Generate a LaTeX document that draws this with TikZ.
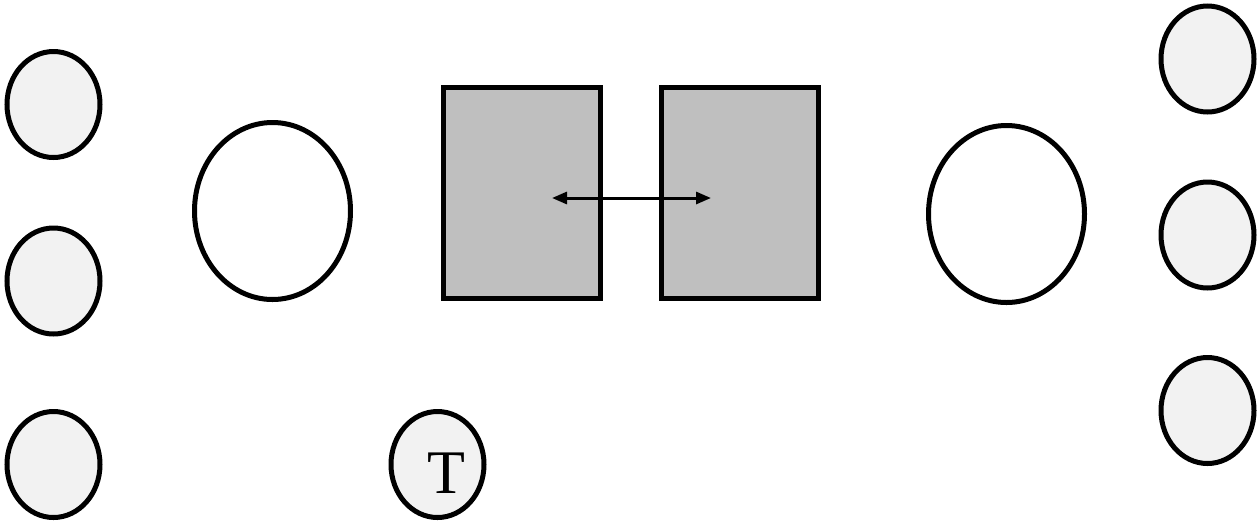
\documentclass[tikz,border=0pt]{standalone}
\usepackage{fontspec}
\setmainfont{Liberation Serif}
\usetikzlibrary{shapes.geometric,arrows.meta}
\definecolor{lightfill}{HTML}{F2F2F2}
\definecolor{boxfill}{HTML}{BFBFBF}
\tikzset{
  smallball/.style={ellipse, draw, line width=5pt, fill=lightfill, inner sep=0pt,
    minimum width=93pt, minimum height=106pt},
  bigring/.style={ellipse, draw, line width=5pt, fill=white, inner sep=0pt,
    minimum width=156pt, minimum height=177pt},
  greybox/.style={rectangle, draw, line width=5pt, fill=boxfill, inner sep=0pt,
    minimum width=157pt, minimum height=211pt},
  biglabel/.style={anchor=base, inner sep=0pt, font=\fontsize{62}{62}\selectfont},
  link/.style={line width=3pt, {Triangle[length=15pt,width=12pt]}-{Triangle[length=15pt,width=12pt]}}
}
\begin{document}
\begin{tikzpicture}[x=1pt, y=-1pt]
\useasboundingbox (0,0) rectangle (1258,523);
% left column
\node[smallball] (l1) at (53.5,104.5) {};
\node[smallball] (l2) at (53.5,281) {};
\node[smallball] (l3) at (53.5,464.5) {};
% right column
\node[smallball] (r1) at (1207.5,59) {};
\node[smallball] (r2) at (1207.5,235) {};
\node[smallball] (r3) at (1207.5,410.5) {};
% large rings
\node[bigring] (ringL) at (272.5,211) {};
\node[bigring] (ringR) at (1006.5,214) {};
% grey blocks
\node[greybox] (boxA) at (522,193) {};
\node[greybox] (boxB) at (740,193) {};
% labelled ball
\node[smallball] (t) at (437.5,464.5) {};
\node[biglabel] (tlabel) at (446,493) {T};
% link between the blocks
\coordinate (pa) at (552,198);
\coordinate (pb) at (711,198);
\draw[link] (pa) -- (pb);
\end{tikzpicture}
\end{document}
